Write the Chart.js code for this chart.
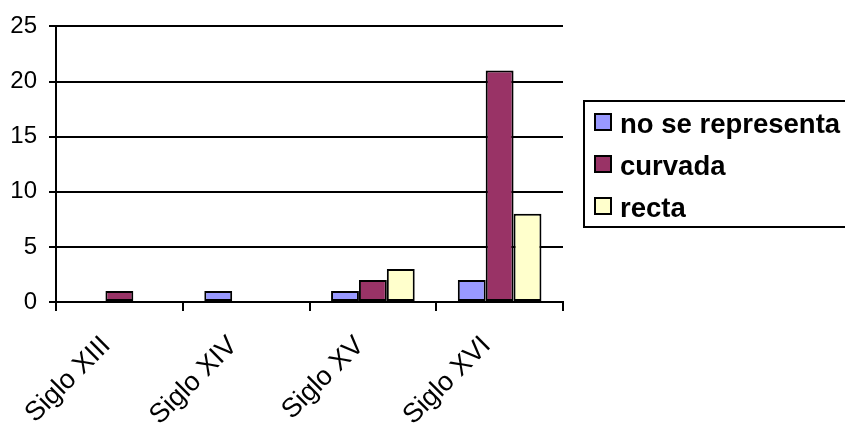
<!DOCTYPE html>
<html>
<head>
<meta charset="utf-8">
<title>Siglos</title>
<script src="https://cdn.jsdelivr.net/npm/chart.js@4.4.1/dist/chart.umd.min.js"></script>
<style>
  html, body { margin: 0; padding: 0; background: #fff; }
  #wrap { width: 845px; height: 425px; }
</style>
</head>
<body>
<div id="wrap"><canvas id="chart" width="845" height="425"></canvas></div>
<script>
// data
let categories = ["Siglo XIII", "Siglo XIV", "Siglo XV", "Siglo XVI"];
let noSeRepresenta = [0, 1, 1, 2];
let curvada = [1, 0, 2, 21];
let recta = [0, 0, 3, 8];
let yTicks = [0, 5, 10, 15, 20, 25];

let seriesNames = ["no se representa", "curvada", "recta"];
let seriesColors = ["#9999FF", "#993366", "#FFFFCC"];

// legend with a frame, like the excel one
let boxLegend = {
  id: "boxLegend",
  afterDraw: function (chart) {
    let ctx = chart.ctx;
    ctx.save();
    ctx.strokeStyle = "#000";
    ctx.lineWidth = 2;
    ctx.strokeRect(584, 101, 300, 126);
    ctx.font = "bold 27.5px 'Liberation Sans', Arial, sans-serif";
    ctx.textBaseline = "alphabetic";
    ctx.textAlign = "left";
    chart.data.datasets.forEach(function (ds, i) {
      let cy = 122 + i * 42;
      ctx.fillStyle = ds.backgroundColor;
      ctx.fillRect(595, cy - 8, 16, 16);
      ctx.lineWidth = 2;
      ctx.strokeStyle = "#000";
      ctx.strokeRect(595, cy - 8, 16, 16);
      ctx.fillStyle = "#000";
      ctx.fillText(ds.label, 620, cy + 11);
    });
    ctx.restore();
  }
};

let datasets = [noSeRepresenta, curvada, recta].map(function (values, i) {
  return {
    label: seriesNames[i],
    data: values,
    backgroundColor: seriesColors[i],
    borderColor: "#000",
    borderWidth: 2,
    borderSkipped: false,
    categoryPercentage: 0.66,
    barPercentage: 1
  };
});

new Chart(document.getElementById("chart"), {
  type: "bar",
  data: { labels: categories, datasets: datasets },
  options: {
    responsive: false,
    animation: false,
    layout: { padding: { top: 24, right: 282, left: 0, bottom: 0 } },
    plugins: {
      legend: { display: false },
      tooltip: { enabled: false }
    },
    scales: {
      x: {
        grid: { display: true, drawOnChartArea: false, drawTicks: true, tickLength: 9, color: "#000", lineWidth: 2, offset: true },
        border: { display: true, color: "#000", width: 2 },
        ticks: {
          color: "#000",
          font: { family: "'Liberation Sans', Arial, sans-serif", size: 27 },
          minRotation: 45,
          maxRotation: 45,
          autoSkip: false,
          padding: 19,
          labelOffset: -13
        },
        afterFit: function (scale) { scale.height = 123; }
      },
      y: {
        min: 0,
        max: 25,
        afterBuildTicks: function (scale) {
          scale.ticks = yTicks.map(function (v) { return { value: v }; });
        },
        grid: { color: "#000", lineWidth: 2, tickLength: 7 },
        border: { display: true, color: "#000", width: 2 },
        ticks: {
          color: "#000",
          padding: 12,
          font: { family: "'Liberation Sans', Arial, sans-serif", size: 24 }
        },
        afterFit: function (scale) { scale.width = 56; }
      }
    }
  },
  plugins: [boxLegend]
});
</script>
</body>
</html>
